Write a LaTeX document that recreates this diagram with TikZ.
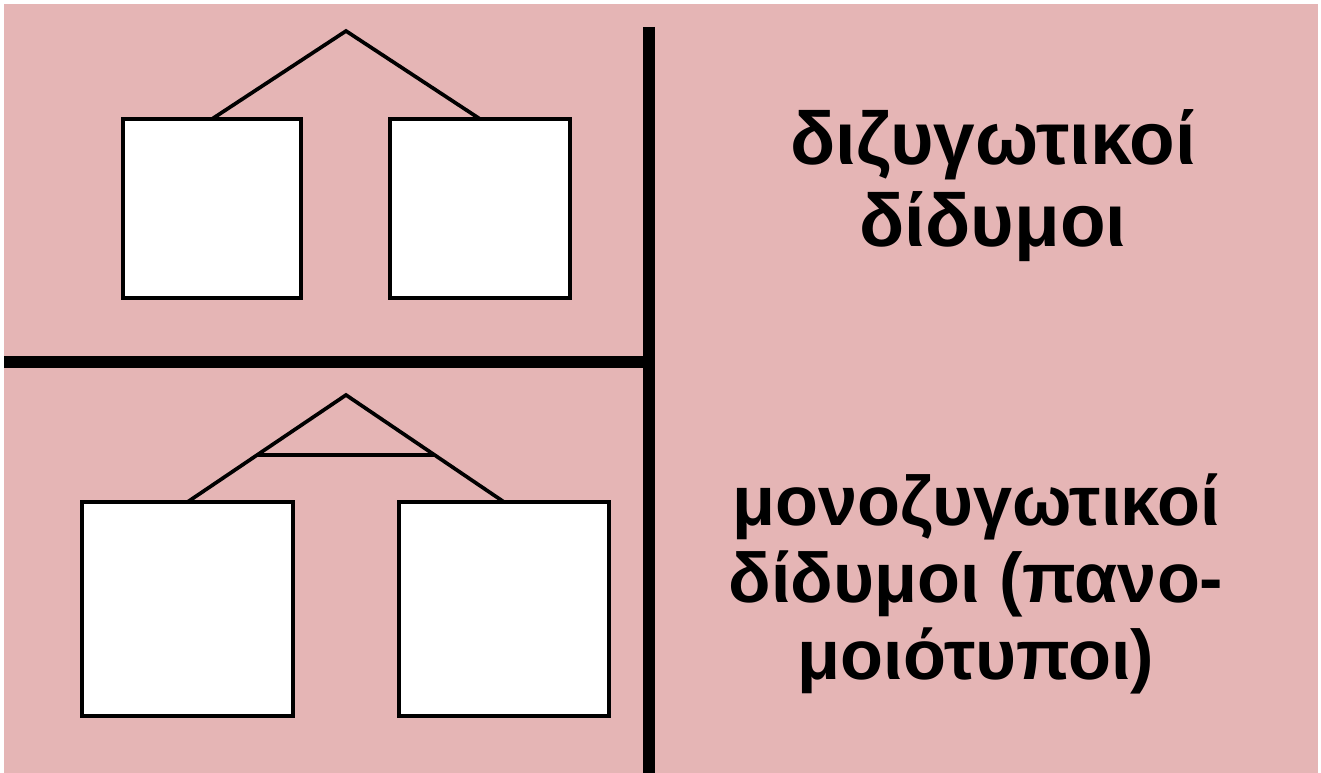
\documentclass[tikz,border=0pt]{standalone}
\usepackage{fontspec}
\setmainfont{Liberation Sans}
\usepackage{tikz}
\usetikzlibrary{positioning, calc}
\usepackage{xcolor}
\definecolor{twinbg}{HTML}{E5B5B5}
\definecolor{twinline}{HTML}{000000}
\definecolor{twinbox}{HTML}{FFFFFF}

\tikzset{
  twinsq/.style={draw=twinline, fill=twinbox, line width=2.1pt, inner sep=0pt, outer sep=0pt},
  tie/.style={draw=twinline, line width=2.1pt},
  divider/.style={draw=twinline, line width=6.8pt},
  label/.style={font=\bfseries\fontsize{40}{43.7}\selectfont, align=center, inner sep=0pt}
}

\begin{document}
\begin{tikzpicture}[x=0.02cm, y=-0.02cm]
    \useasboundingbox (0,0) rectangle (1321,773);
    \fill[twinbg] (4,4) rectangle (1318,773);
    % dividers
    \coordinate (vtop) at (649,27);
    \coordinate (vbot) at (649,773);
    \coordinate (hleft) at (4,362);
    \coordinate (hmid) at (649,362);
    \draw[divider] (vtop) -- (vbot);
    \draw[divider] (hleft) -- (hmid);
    % dizygotic
    \node[twinsq, minimum width=178*0.02cm, minimum height=179*0.02cm] (dz1) at (212,208.5) {};
    \node[twinsq, minimum width=180*0.02cm, minimum height=179*0.02cm] (dz2) at (480,208.5) {};
    \coordinate (dzapex) at (346,31);
    \draw[tie, line join=miter] (dz1.north) -- (dzapex) -- (dz2.north);
    \node[label, font=\bfseries\fontsize{42.5}{46.6}\selectfont] (dztext) at (993,186) {διζυγωτικοί\\δίδυμοι};
    % monozygotic
    \node[twinsq, minimum width=211*0.02cm, minimum height=214*0.02cm] (mz1) at (187.5,609) {};
    \node[twinsq, minimum width=210*0.02cm, minimum height=214*0.02cm] (mz2) at (504,609) {};
    \coordinate (mzapex) at (346,395);
    \draw[tie, line join=miter] (mz1.north) -- (mzapex) -- (mz2.north);
    \draw[tie] ($(mzapex)!0.56!(mz1.north)$) -- ($(mzapex)!0.56!(mz2.north)$);
    \node[label] (mztext) at (976,584) {μονοζυγωτικοί\\δίδυμοι (πανο-\\μοιότυποι)};
\end{tikzpicture}
\end{document}
